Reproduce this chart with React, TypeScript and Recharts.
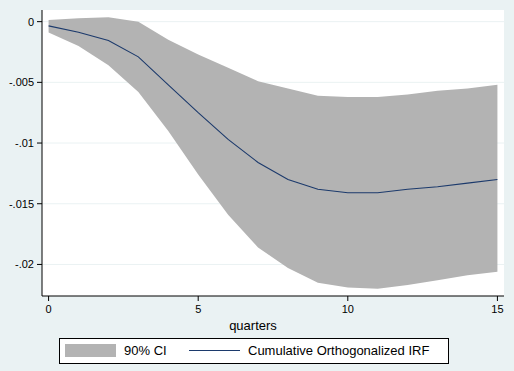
import React from "react";
import { ComposedChart, Area, Line, XAxis, YAxis, CartesianGrid, Label } from "recharts";

// values
const quarters = [0, 1, 2, 3, 4, 5, 6, 7, 8, 9, 10, 11, 12, 13, 14, 15];
const irf = [
  -0.00035, -0.00087, -0.00156, -0.0029, -0.0052, -0.0075, -0.0097, -0.0116,
  -0.013, -0.0138, -0.0141, -0.0141, -0.0138, -0.0136, -0.0133, -0.013,
];
const ciUpper = [
  0.00014, 0.00028, 0.00036, 0.0, -0.0015, -0.0027, -0.0038, -0.0049,
  -0.0055, -0.0061, -0.0062, -0.0062, -0.006, -0.0057, -0.0055, -0.0052,
];
const ciLower = [
  -0.0009, -0.002, -0.0036, -0.0058, -0.009, -0.0126, -0.0159, -0.0186,
  -0.0203, -0.0215, -0.0219, -0.022, -0.0217, -0.0213, -0.0209, -0.0206,
];
const yTicks = [0, -0.005, -0.01, -0.015, -0.02];
const xTicks = [0, 5, 10, 15];
const legendLabels = ["90% CI", "Cumulative Orthogonalized IRF"];

const BG = "#eaf2f3";
const CI_FILL = "#b3b3b3";
const NAVY = "#1c3a6c";
const FONT = "'Liberation Sans', Arial, Helvetica, sans-serif";

const data = quarters.map((q, i) => ({ q, irf: irf[i], ci: [ciLower[i], ciUpper[i]] }));

const fmtY = (v: number) => (v === 0 ? "0" : String(v).replace("0.", "."));

const QuartersLabel = (props: any) => {
  const vb = props.viewBox || {};
  return (
    <text
      x={vb.x + vb.width / 2 - 20}
      y={vb.y + vb.height - 6}
      textAnchor="middle"
      fontSize={13}
      fontFamily={FONT}
      fill="#000"
    >
      quarters
    </text>
  );
};

const LegendBox = () => (
  <div
    style={{
      position: "absolute",
      left: 59,
      top: 338,
      width: 388,
      height: 24,
      border: "1px solid #000",
      background: "#fff",
      fontFamily: FONT,
      fontSize: 13,
      color: "#000",
    }}
  >
    <div style={{ position: "absolute", left: 5, top: 5, width: 51, height: 13, background: CI_FILL }} />
    <div style={{ position: "absolute", left: 64, top: 3, lineHeight: "17px" }}>{legendLabels[0]}</div>
    <div style={{ position: "absolute", left: 129, top: 11, width: 51, height: 1.3, background: NAVY }} />
    <div style={{ position: "absolute", left: 188, top: 3, lineHeight: "17px" }}>{legendLabels[1]}</div>
  </div>
);

export default function App() {
  return (
    <div style={{ position: "absolute", left: 0, top: 0, width: 514, height: 371, background: BG }}>
      <ComposedChart
        width={514}
        height={371}
        data={data}
        margin={{ top: 10, right: 10, left: 0, bottom: 35 }}
      >
        <CartesianGrid vertical={false} stroke={BG} fill="#fff" horizontalValues={yTicks} />
        <XAxis
          type="number"
          dataKey="q"
          domain={[-0.22, 15.22]}
          ticks={xTicks}
          allowDataOverflow
          height={40}
          axisLine={{ stroke: "#000" }}
          tickLine={{ stroke: "#000" }}
          tickSize={5}
          tickMargin={4}
          tick={{ fill: "#000", fontSize: 11, fontFamily: FONT }}
        >
          <Label content={QuartersLabel} />
        </XAxis>
        <YAxis
          type="number"
          domain={[-0.0226, 0.00096]}
          ticks={yTicks}
          allowDataOverflow
          width={42}
          tickFormatter={fmtY}
          axisLine={{ stroke: "#000" }}
          tickLine={{ stroke: "#000" }}
          tickSize={5}
          tickMargin={3}
          tick={{ fill: "#000", fontSize: 11, fontFamily: FONT }}
        />
        <Area
          type="linear"
          dataKey="ci"
          fill={CI_FILL}
          fillOpacity={1}
          stroke="none"
          isAnimationActive={false}
        />
        <Line
          type="linear"
          dataKey="irf"
          stroke={NAVY}
          strokeWidth={1.1}
          dot={false}
          activeDot={false}
          isAnimationActive={false}
        />
      </ComposedChart>
      <LegendBox />
    </div>
  );
}
